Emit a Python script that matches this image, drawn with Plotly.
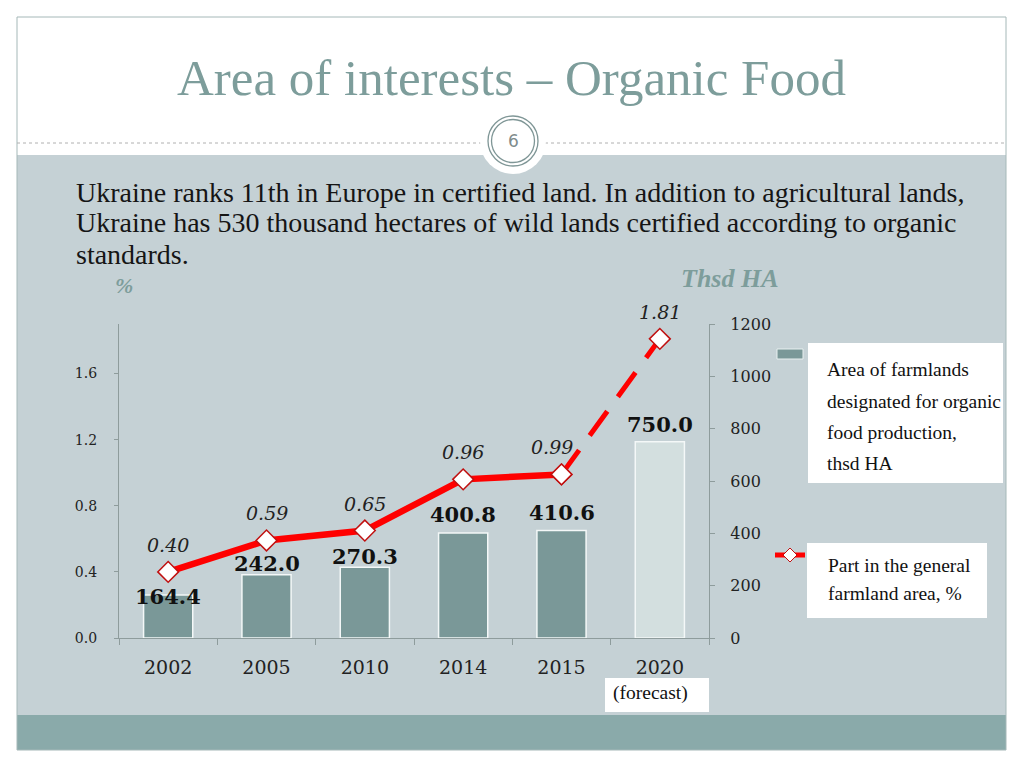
import plotly.graph_objects as go

# ---- data ----
years = ["2002", "2005", "2010", "2014", "2015", "2020"]
area_thsd_ha = [164.4, 242.0, 270.3, 400.8, 410.6, 750.0]
share_pct = [0.40, 0.59, 0.65, 0.96, 0.99, 1.81]
area_labels = ["164.4", "242.0", "270.3", "400.8", "410.6", "750.0"]
share_labels = ["0.40", "0.59", "0.65", "0.96", "0.99", "1.81"]
left_ticks = [0.0, 0.4, 0.8, 1.2, 1.6]
left_ticktext = ["0.0", "0.4", "0.8", "1.2", "1.6"]
right_ticks = [0, 200, 400, 600, 800, 1000, 1200]

W, H = 1024, 768
SERIF = "Liberation Serif"
DSERIF = "DejaVu Serif"
TEAL = "#7a9898"
BG_GRAY = "#c5d1d5"
BAND = "#8aaaaa"
TITLE_C = "#7d9d9b"


def px(x):
    return x / W


def py(y):
    return 1 - y / H


fig = go.Figure()

bar_colors = [TEAL] * 5 + ["#d3dfdf"]
fig.add_trace(go.Bar(
    x=years, y=area_thsd_ha, yaxis="y2", width=0.5,
    marker=dict(color=bar_colors, line=dict(color="#f4f8f8", width=1.5)),
    hoverinfo="x+y",
))

# solid part of the share line
fig.add_trace(go.Scatter(
    x=years[:5], y=share_pct[:5], mode="lines+markers", yaxis="y",
    line=dict(color="#ff0000", width=6.5),
    marker=dict(symbol="diamond", size=16, color="white",
                line=dict(color="#c01010", width=1.5)),
))
# forecast (dashed) part
fig.add_trace(go.Scatter(
    x=years[4:], y=share_pct[4:], mode="lines+markers", yaxis="y",
    line=dict(color="#ff0000", width=5, dash="30px,18px"),
    marker=dict(symbol="diamond", size=16, color="white",
                line=dict(color="#c01010", width=1.5)),
))

annotations = []
# bar value labels (x given as category index)
bar_shift = [-16, -3, -4, 4, 4, 3]
for i, (v, t, s) in enumerate(zip(area_thsd_ha, area_labels, bar_shift)):
    annotations.append(dict(x=i, y=v, xref="x", yref="y2", text="<b>" + t + "</b>", showarrow=False,
                            xanchor="center", yanchor="bottom", yshift=s,
                            font=dict(family=DSERIF, size=21, color="#111111")))
# line value labels
share_xshift = [0, 0, 0, 0, -10, 0]
for i, (v, t, s) in enumerate(zip(share_pct, share_labels, share_xshift)):
    annotations.append(dict(x=i, y=v, xref="x", yref="y", text="<i>" + t + "</i>", showarrow=False,
                            xanchor="center", yanchor="bottom", yshift=14, xshift=s,
                            font=dict(family=DSERIF, size=19, color="#222222")))


def ptext(x, y, text, size, color="#111111", family=SERIF, xanchor="center"):
    annotations.append(dict(x=px(x), y=py(y), xref="paper", yref="paper", text=text,
                            showarrow=False, xanchor=xanchor, yanchor="middle",
                            font=dict(family=family, size=size, color=color)))


# slide texts
ptext(511, 78, "Area of interests – Organic Food", 51, TITLE_C)
ptext(513, 141, "6", 17, "#7f8c8c", family="DejaVu Sans")
body = ["Ukraine ranks 11th in Europe in certified land. In addition to agricultural lands,",
        "Ukraine has 530 thousand hectares of wild lands certified according to organic",
        "standards."]
for i, line in enumerate(body):
    ptext(74, 192 + 31 * i, line, 28, "#151515", xanchor="left")
ptext(124, 286, "<b><i>%</i></b>", 22, TITLE_C)
ptext(730, 278, "<b><i>Thsd HA</i></b>", 26, TITLE_C)
ptext(650, 693, "(forecast)", 19.5)

leg1 = ["Area of farmlands", "designated for organic", "food production,", "thsd HA"]
for i, line in enumerate(leg1):
    ptext(825, 370 + 31 * i, line, 19.5, xanchor="left")
leg2 = ["Part in the general", "farmland area, %"]
for i, line in enumerate(leg2):
    ptext(826, 565 + 28 * i, line, 19.5, xanchor="left")

shapes = []


def rect(x0, y0, x1, y1, fill, line=None, lw=0, layer="below"):
    shapes.append(dict(type="rect", xref="paper", yref="paper",
                       x0=px(x0), x1=px(x1), y0=py(y1), y1=py(y0),
                       fillcolor=fill, line=dict(color=line or fill, width=lw), layer=layer))


# slide background parts
rect(17, 155, 1006, 715, BG_GRAY)
rect(17, 715, 1006, 750, BAND)
shapes.append(dict(type="rect", xref="paper", yref="paper", x0=px(17), x1=px(1006),
                   y0=py(750), y1=py(17), line=dict(color="#a5b8b8", width=1), layer="below"))
shapes.append(dict(type="line", xref="paper", yref="paper", x0=px(17), x1=px(1006),
                   y0=py(143), y1=py(143), line=dict(color="#b0b0b0", width=1, dash="dot"),
                   layer="below"))
# page-number circle
for r, fill, col, lw in [(33, "white", "white", 0), (25, "white", "#7f9696", 1.3),
                         (21.5, "rgba(0,0,0,0)", "#7f9696", 1.3)]:
    shapes.append(dict(type="circle", xref="paper", yref="paper",
                       x0=px(513 - r), x1=px(513 + r), y0=py(141 + r), y1=py(141 - r),
                       fillcolor=fill, line=dict(color=col, width=lw), layer="below"))
# forecast box
rect(605, 678, 709, 712, "white")
# legend boxes
rect(808, 343, 1003, 483, "white", layer="above")
rect(807, 543, 987, 618, "white", layer="above")
rect(777, 349, 803, 359, TEAL, line="#e8f0f0", lw=1, layer="above")
shapes.append(dict(type="line", xref="paper", yref="paper", x0=px(775), x1=px(805),
                   y0=py(555), y1=py(555), line=dict(color="#ff0000", width=5), layer="above"))
d = 7
shapes.append(dict(type="path", xref="paper", yref="paper",
                   path=f"M {px(790-d)} {py(555)} L {px(790)} {py(555-d)} L {px(790+d)} {py(555)} L {px(790)} {py(555+d)} Z",
                   fillcolor="white", line=dict(color="#c01010", width=1), layer="above"))

AX = "#8e9c9c"
fig.update_layout(
    width=W, height=H, autosize=False,
    margin=dict(l=0, r=0, t=0, b=0, pad=0),
    paper_bgcolor="white", plot_bgcolor="rgba(0,0,0,0)",
    showlegend=False,
    xaxis=dict(type="category", categoryorder="array", categoryarray=years,
               domain=[px(119), px(709)], range=[-0.5, 5.5], automargin=False,
               showline=True, linecolor=AX, linewidth=1.3,
               ticks="outside", tickson="boundaries", ticklen=6, tickcolor=AX,
               showgrid=False, ticklabelstandoff=12,
               tickfont=dict(family=DSERIF, size=19, color="#222222")),
    yaxis=dict(domain=[py(638), py(324)], range=[0, 1.9], automargin=False,
               tickvals=left_ticks, ticktext=left_ticktext,
               showline=True, linecolor=AX, linewidth=1.3,
               ticks="outside", ticklen=4, tickcolor=AX,
               showgrid=False, zeroline=False, ticklabelstandoff=14,
               tickfont=dict(family=DSERIF, size=14, color="#222222")),
    yaxis2=dict(overlaying="y", side="right", range=[0, 1200], tickvals=right_ticks,
                automargin=False,
                showline=True, linecolor=AX, linewidth=1.3,
                ticks="outside", ticklen=5, tickcolor=AX,
                showgrid=False, zeroline=False, ticklabelstandoff=12,
                tickfont=dict(family=DSERIF, size=16, color="#222222")),
    shapes=shapes,
    annotations=annotations,
)

fig.write_html("out.html", config={"responsive": False, "displayModeBar": False},
               post_script="document.body.style.margin='0';document.body.style.overflow='hidden';")
